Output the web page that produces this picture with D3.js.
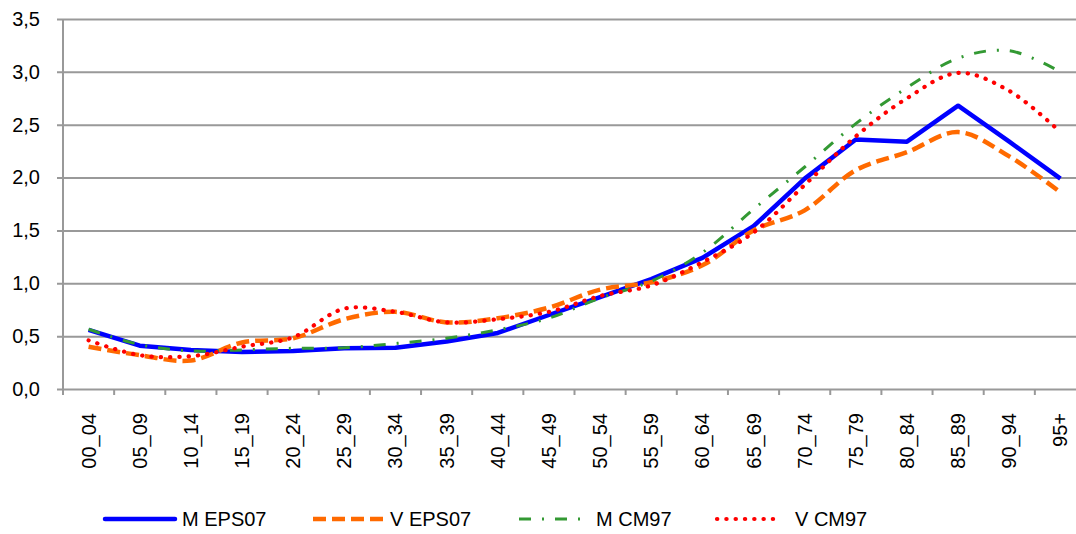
<!DOCTYPE html>
<html>
<head>
<meta charset="utf-8">
<script src="https://cdn.jsdelivr.net/npm/d3@7"></script>
<style>
  body { margin: 0; background: #fff; }
  svg { display: block; font-family: "Liberation Sans", Arial, sans-serif; }
  .axis path { display: none; }
  .axis text { font-size: 20px; fill: #000; }
</style>
</head>
<body>
<div id="chart"></div>
<script>
// age groups
const categories = ["00_04","05_09","10_14","15_19","20_24","25_29","30_34","35_39","40_44","45_49",
                    "50_54","55_59","60_64","65_69","70_74","75_79","80_84","85_89","90_94","95+"];

const mEps07 = [0.56,0.41,0.37,0.35,0.36,0.385,0.39,0.45,0.53,0.70,0.87,1.04,1.24,1.54,1.99,2.36,2.34,2.68,2.34,1.99];
const vEps07 = [0.40,0.32,0.27,0.44,0.48,0.66,0.73,0.63,0.67,0.77,0.94,1.01,1.17,1.50,1.69,2.07,2.24,2.43,2.20,1.86];
const mCm97  = [0.565,0.42,0.36,0.37,0.385,0.39,0.43,0.48,0.56,0.67,0.86,1.02,1.29,1.70,2.10,2.51,2.85,3.13,3.20,3.00];
const vCm97  = [0.46,0.32,0.31,0.40,0.49,0.76,0.73,0.63,0.66,0.73,0.88,0.98,1.20,1.48,1.93,2.39,2.75,2.99,2.82,2.43];

const yTicks = [0, 0.5, 1, 1.5, 2, 2.5, 3, 3.5];

const series = [
  { name: "M EPS07", values: mEps07, color: "#0000ff", width: 4.5, dash: null, cap: "butt", smooth: false },
  { name: "V EPS07", values: vEps07, color: "#ff6a00", width: 4.5, dash: "13,6", cap: "butt", smooth: true },
  { name: "M CM97",  values: mCm97,  color: "#339933", width: 3, dash: "12,11,2,11", cap: "butt", smooth: true },
  { name: "V CM97",  values: vCm97,  color: "#ff0000", width: 4.2, dash: "0.3,9", cap: "round", smooth: true }
];

const chartWidth = 1076, chartHeight = 534;
const plotLeft = 63, plotRight = 1086, plotTop = 19, plotBottom = 389;

const svg = d3.select("#chart").append("svg")
    .attr("width", chartWidth)
    .attr("height", chartHeight);

const x = d3.scaleBand().domain(categories).range([plotLeft, plotRight]).padding(0);
const y = d3.scaleLinear().domain([0, 3.5]).range([plotBottom, plotTop]);

const loc = d3.formatLocale({ decimal: ",", thousands: ".", grouping: [3], currency: ["", ""] });
const fmt = loc.format(".1f");

// y axis + gridlines
const yAxis = svg.append("g")
    .attr("class", "axis axis--y")
    .attr("transform", "translate(" + plotLeft + ",0)")
    .call(d3.axisLeft(y).tickValues(yTicks).tickFormat(fmt).tickSizeInner(-(chartWidth - plotLeft)).tickSizeOuter(0).tickPadding(23));

yAxis.selectAll(".tick line")
    .attr("x1", -6)
    .attr("stroke", "#999")
    .attr("stroke-width", 2);

// left axis line
svg.append("line")
    .attr("x1", plotLeft).attr("x2", plotLeft)
    .attr("y1", plotTop).attr("y2", plotBottom + 6)
    .attr("stroke", "#999")
    .attr("stroke-width", 2);

// x axis labels
const xAxis = svg.append("g")
    .attr("class", "axis axis--x")
    .attr("transform", "translate(0," + plotBottom + ")")
    .call(d3.axisBottom(x).tickSize(0));

xAxis.selectAll(".tick text")
    .attr("transform", "rotate(-90)")
    .attr("x", -24)
    .attr("y", 0)
    .attr("dy", "0.35em")
    .attr("text-anchor", "end");

// x boundary ticks
svg.append("g").selectAll("line")
  .data(categories)
  .join("line")
    .attr("x1", d => x(d) + x.bandwidth())
    .attr("x2", d => x(d) + x.bandwidth())
    .attr("y1", plotBottom)
    .attr("y2", plotBottom + 6)
    .attr("stroke", "#999")
    .attr("stroke-width", 2);

// lines
const xc = i => x(categories[i]) + x.bandwidth() / 2;

series.forEach(s => {
  const line = d3.line()
      .x((d, i) => xc(i))
      .y(d => y(d))
      .curve(s.smooth ? d3.curveCatmullRom.alpha(0.5) : d3.curveLinear);

  svg.append("path")
      .datum(s.values)
      .attr("fill", "none")
      .attr("stroke", s.color)
      .attr("stroke-width", s.width)
      .attr("stroke-dasharray", s.dash)
      .attr("stroke-linecap", s.cap)
      .attr("stroke-linejoin", "round")
      .attr("d", line);
});

// legend
const legendPos = [
  { x1: 105, x2: 175, tx: 182 },
  { x1: 313, x2: 383, tx: 390 },
  { x1: 519, x2: 582, tx: 596 },
  { x1: 717, x2: 779, tx: 795 }
];
const legendY = 519;

const legend = svg.append("g").attr("class", "legend");
series.forEach((s, i) => {
  const p = legendPos[i];
  legend.append("line")
      .attr("x1", p.x1).attr("x2", p.x2)
      .attr("y1", legendY).attr("y2", legendY)
      .attr("stroke", s.color)
      .attr("stroke-width", s.width)
      .attr("stroke-dasharray", s.dash)
      .attr("stroke-linecap", s.dash ? s.cap : "round");
  legend.append("text")
      .attr("x", p.tx)
      .attr("y", legendY)
      .attr("dy", "0.35em")
      .attr("font-size", "20px")
      .attr("fill", "#000")
      .text(s.name);
});
</script>
</body>
</html>
